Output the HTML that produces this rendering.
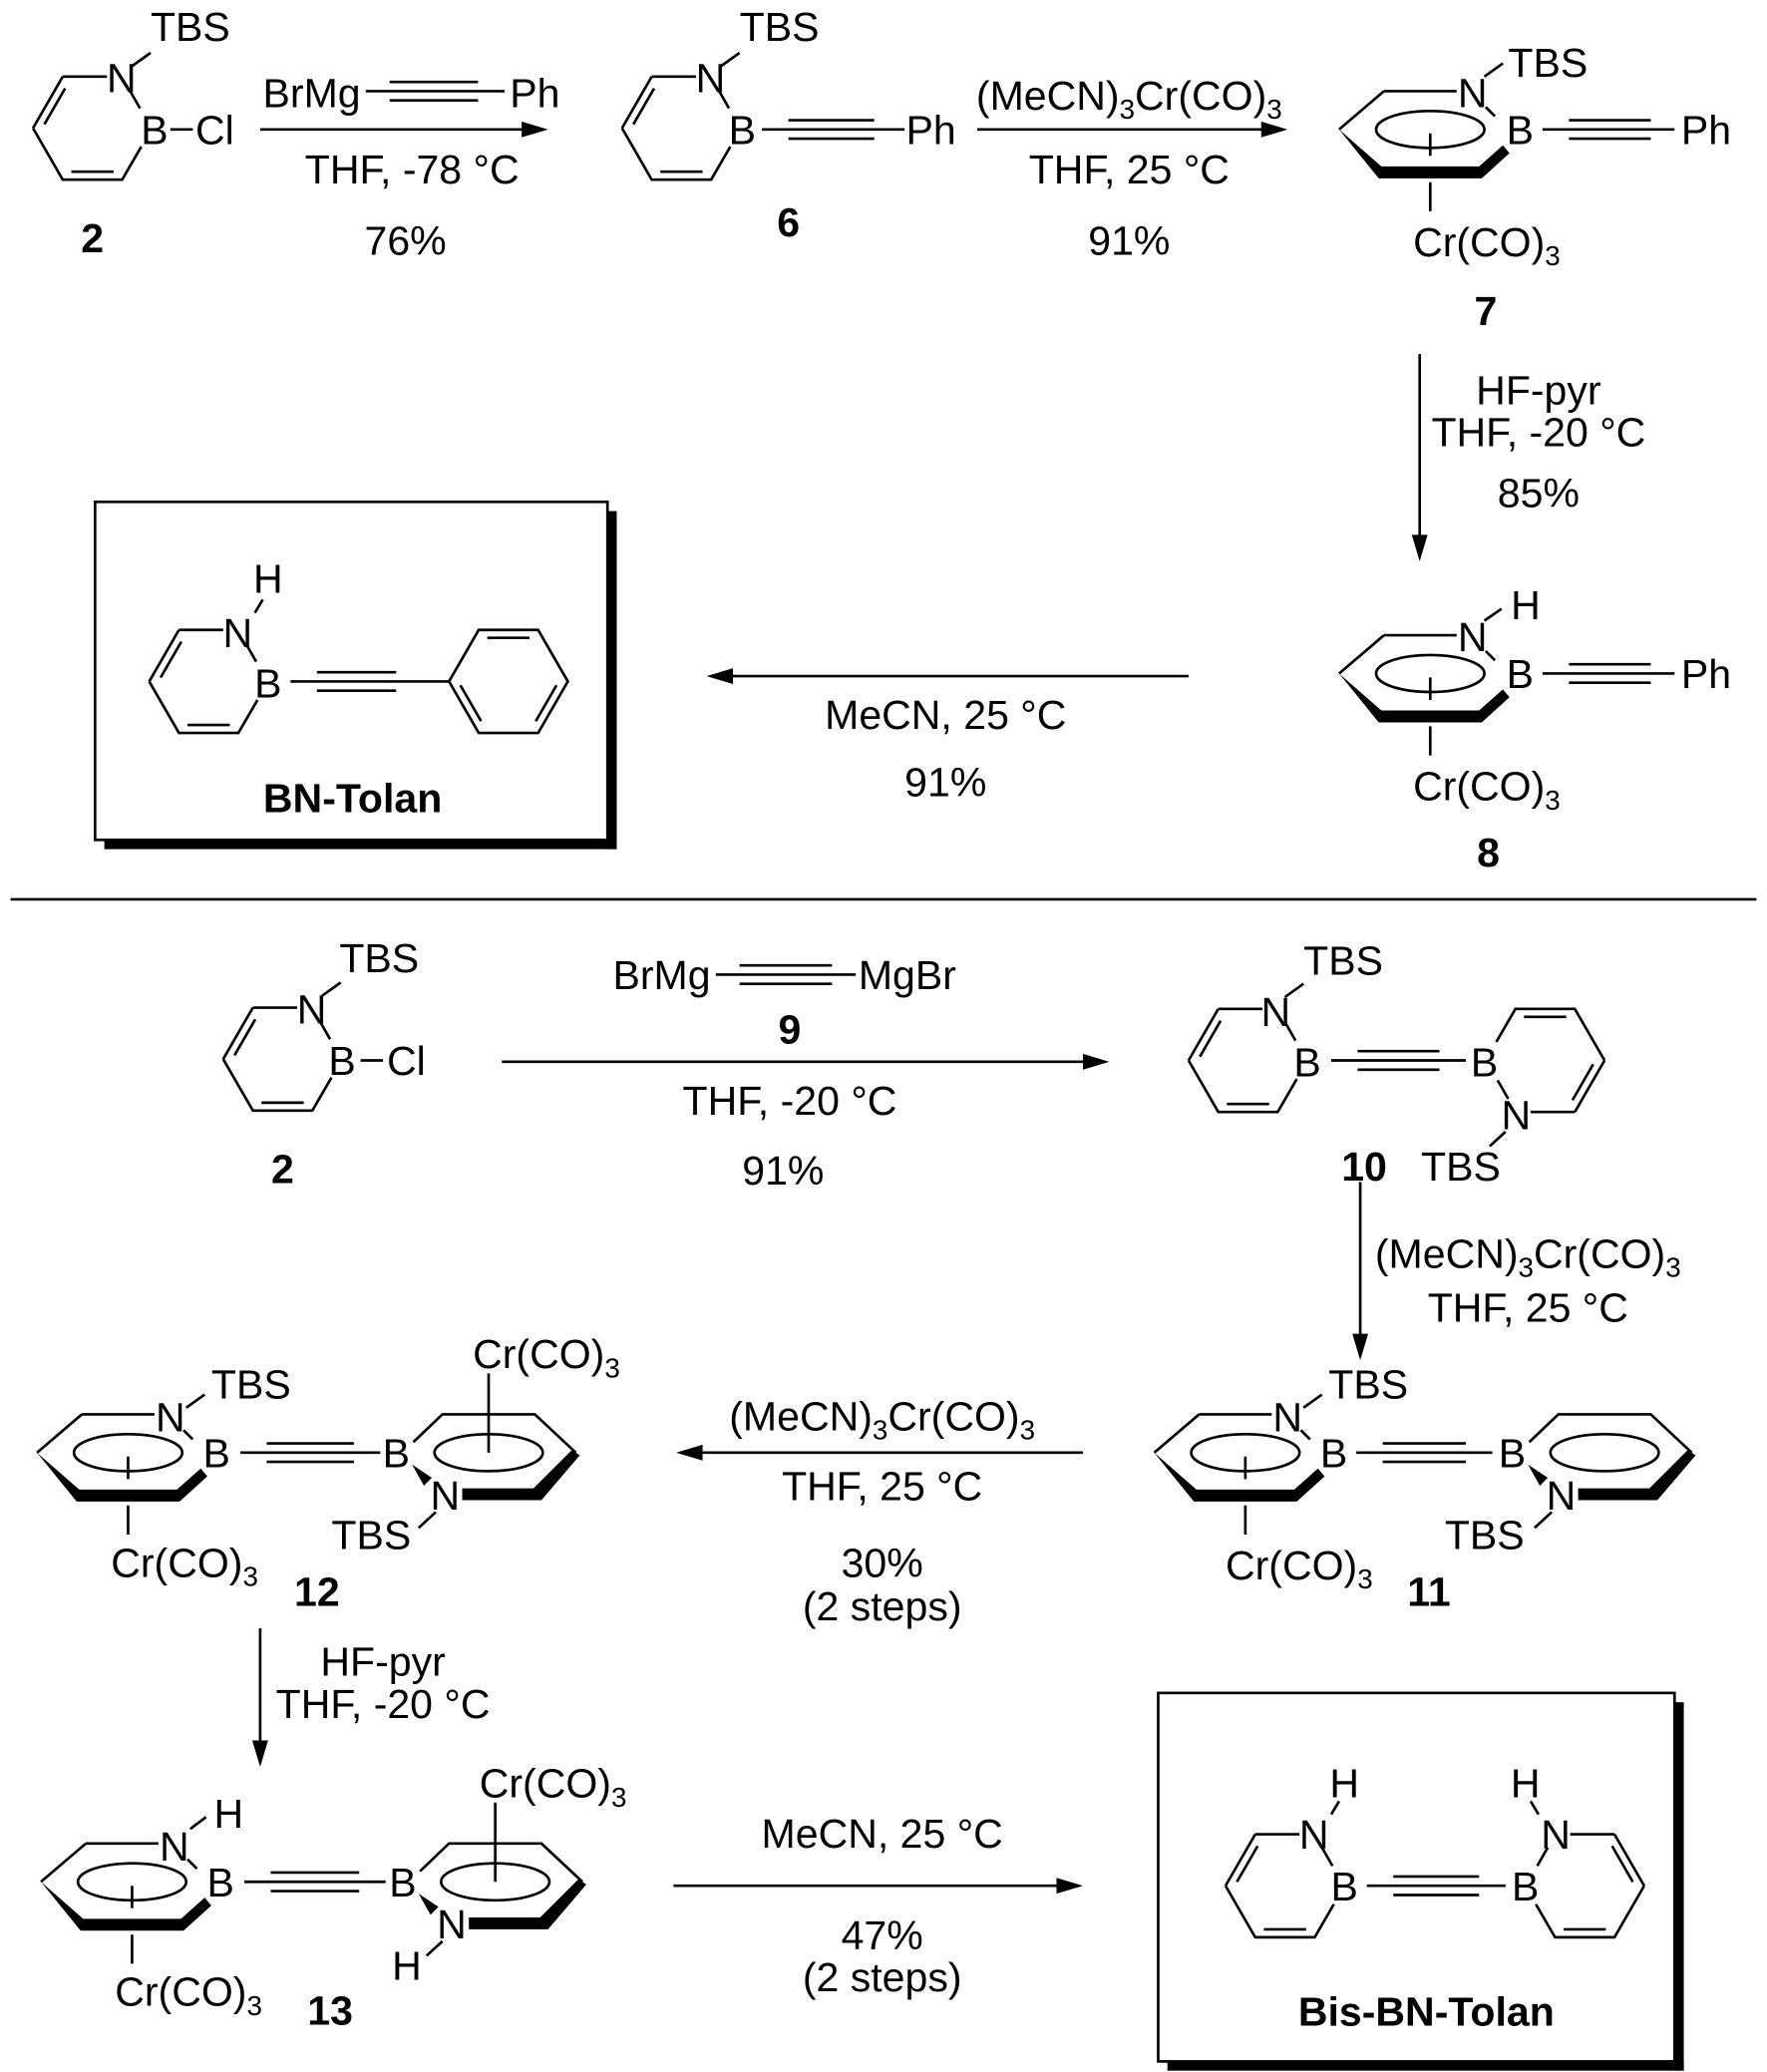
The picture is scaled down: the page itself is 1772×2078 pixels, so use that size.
<!DOCTYPE html>
<html><head><meta charset="utf-8"><style>
html,body{margin:0;padding:0;background:#fff}
svg{display:block}
text{font-family:"Liberation Sans",Arial,sans-serif;font-size:31px;fill:#000}
.m{text-anchor:middle}
.b{font-weight:bold}
</style></head><body>
<svg width="1772" height="2078" viewBox="0 0 1338 1569" xmlns="http://www.w3.org/2000/svg">
<defs>
<g id="bn" fill="none" stroke="#000" stroke-width="2">
<path d="M-22.5,-39 H11 M-45,0 L-22.5,-39 M-45,0 L-22.5,39 H22.5 L37,14 M28,-29 L36,-15 M-36.4,-2.9 L-20.7,-30.1 M-16,33 H16"/>
</g>
<g id="ph" fill="none" stroke="#000" stroke-width="2">
<path d="M-45,0 L-22.5,-39 H22.5 L45,0 L22.5,39 H-22.5 Z M-16,-33 H16 M-36.4,2.9 L-20.7,30.1 M36.4,2.9 L20.7,30.1"/>
</g>
<g id="crl">
<path d="M-35,-29 H20 M-69,0 L-35,-29 M42,-17 L49,-10 M0,3 V20 M0,40 V62" fill="none" stroke="#000" stroke-width="2"/>
<ellipse cx="0" cy="0" rx="41" ry="14" fill="none" stroke="#000" stroke-width="2"/>
<polygon points="-69,0 -37,28 37,28 55,12 60,18 39,37 -39,37" fill="#000"/>
</g>
<g id="crr">
<path d="M-57,-8 L-35,-29 H35 L66,0" fill="none" stroke="#000" stroke-width="2"/>
<ellipse cx="0" cy="0" rx="41" ry="14" fill="none" stroke="#000" stroke-width="2"/>
<polygon points="-20,27 34,27 63,-2 69,2 40,36 -20,36" fill="#000"/>
<polygon points="-58,9 -43,19 -49,25" fill="#000"/>
</g>
</defs>
<g stroke="#000" stroke-width="2" fill="none">
<path d="M100,50 L114,40 M129,98 H146"/>
<path d="M197,98 H405"/>
<path d="M277,69 H382 M295,62 H362 M295,76 H362"/>
<path d="M546,50 L560,40 M577,98 H685 M597,91 H662 M597,105 H662"/>
<path d="M740,98 H965"/>
<path d="M1124,58 L1138,48 M1168,98 H1268 M1188,91 H1250 M1188,105 H1250"/>
<path d="M1075,268 V415"/>
<path d="M1124,470 L1137,461 M1168,510 H1268 M1188,503 H1250 M1188,517 H1250"/>
<path d="M900,512 H545"/>
<rect x="72" y="380" width="388" height="256"/>
<path d="M199,454 L193,464 M220,516 H340 M240,509 H300 M240,523 H300"/>
<path d="M8,681 H1330"/>
<path d="M244,754 L258,744 M273,803 H290"/>
<path d="M380,804 H830"/>
<path d="M542,738 H648 M560,731 H630 M560,745 H630"/>
<path d="M973,755 L987,745 M1008,803 H1110 M1028,796 H1090 M1028,810 H1090 M1140,857 L1128,868"/>
<path d="M1030,895 V1020"/>
<path d="M987,1066 L1001,1056 M1027,1100 H1130 M1047,1093 H1110 M1047,1107 H1110 M1175,1145 L1162,1157"/>
<path d="M820,1100 H522"/>
<path d="M141,1066 L155,1056 M182,1100 H288 M202,1093 H268 M202,1107 H268 M330,1145 L317,1157 M370,1100 V1040"/>
<path d="M197,1233 V1328"/>
<path d="M144,1385 L156,1376 M185,1425 H292 M205,1418 H272 M205,1432 H272 M335,1470 L323,1481 M375,1425 V1365"/>
<path d="M510,1428 H810"/>
<rect x="877" y="1282" width="391" height="279"/>
<path d="M1014,1364 L1008,1374 M1035,1428 H1140 M1055,1421 H1120 M1055,1435 H1120 M1159,1364 L1165,1374"/>
</g>
<g fill="#000">
<polygon points="415,98 395,92 395,104"/>
<polygon points="975,98 955,92 955,104"/>
<polygon points="1075,425 1069,405 1081,405"/>
<polygon points="535,512 555,506 555,518"/>
<polygon points="840,804 820,798 820,810"/>
<polygon points="1030,1030 1024,1010 1036,1010"/>
<polygon points="512,1100 532,1094 532,1106"/>
<polygon points="197,1338 191,1318 203,1318"/>
<polygon points="820,1428 800,1422 800,1434"/>
<rect x="460" y="387" width="7" height="256"/>
<rect x="79" y="636" width="388" height="7"/>
<rect x="1268" y="1289" width="7" height="279"/>
<rect x="884" y="1561" width="391" height="7"/>
</g>
<use href="#bn" x="70" y="97"/>
<use href="#bn" x="516" y="97"/>
<use href="#bn" x="158" y="516"/>
<use href="#ph" x="385" y="516"/>
<use href="#bn" x="214" y="802"/>
<use href="#bn" x="945" y="803"/>
<use href="#bn" transform="translate(1170,803) rotate(180)"/>
<use href="#bn" x="973" y="1428"/>
<use href="#bn" transform="translate(1200,1428) scale(-1,1)"/>
<use href="#crl" x="1083" y="98"/>
<use href="#crl" x="1083" y="510"/>
<use href="#crl" x="943" y="1100"/>
<use href="#crr" x="1215" y="1100"/>
<use href="#crl" x="97" y="1100"/>
<use href="#crr" x="370" y="1100"/>
<use href="#crl" x="100" y="1425"/>
<use href="#crr" x="375" y="1425"/>

<text x="114" y="31">TBS</text>
<text class="m" x="92" y="70">N</text>
<text class="m" x="117" y="109">B</text>
<text x="148" y="109">Cl</text>
<text class="m b" x="70" y="191">2</text>
<text x="199" y="81">BrMg</text>
<text x="386" y="81">Ph</text>
<text class="m" x="312" y="139">THF, -78 °C</text>
<text class="m" x="307" y="193">76%</text>

<text x="560" y="31">TBS</text>
<text class="m" x="538" y="70">N</text>
<text class="m" x="562" y="109">B</text>
<text x="686" y="109">Ph</text>
<text class="m b" x="597" y="179">6</text>
<text class="m" x="855" y="83">(MeCN)<tspan font-size="21" dy="7">3</tspan><tspan dy="-7">Cr(CO)</tspan><tspan font-size="21" dy="7">3</tspan></text>
<text class="m" x="855" y="139">THF, 25 °C</text>
<text class="m" x="855" y="193">91%</text>

<text x="1142" y="58">TBS</text>
<text class="m" x="1115" y="81">N</text>
<text class="m" x="1151" y="109">B</text>
<text x="1273" y="109">Ph</text>
<text x="1070" y="194">Cr(CO)<tspan font-size="21" dy="7">3</tspan></text>
<text class="m b" x="1125" y="246">7</text>
<text class="m" x="1165" y="306">HF-pyr</text>
<text class="m" x="1165" y="338">THF, -20 °C</text>
<text class="m" x="1165" y="384">85%</text>

<text x="1144" y="469">H</text>
<text class="m" x="1115" y="493">N</text>
<text class="m" x="1151" y="521">B</text>
<text x="1273" y="521">Ph</text>
<text x="1070" y="606">Cr(CO)<tspan font-size="21" dy="7">3</tspan></text>
<text class="m b" x="1127" y="656">8</text>
<text class="m" x="716" y="552">MeCN, 25 °C</text>
<text class="m" x="716" y="603">91%</text>

<text class="m" x="203" y="449">H</text>
<text class="m" x="180" y="490">N</text>
<text class="m" x="203" y="528">B</text>
<text class="m b" x="267" y="615">BN-Tolan</text>

<text x="257" y="736">TBS</text>
<text class="m" x="236" y="775">N</text>
<text class="m" x="259" y="814">B</text>
<text x="293" y="814">Cl</text>
<text class="m b" x="214" y="896">2</text>
<text x="464" y="749">BrMg</text>
<text x="650" y="749">MgBr</text>
<text class="m b" x="598" y="790">9</text>
<text class="m" x="598" y="844">THF, -20 °C</text>
<text class="m" x="593" y="897">91%</text>

<text x="987" y="738">TBS</text>
<text class="m" x="966" y="777">N</text>
<text class="m" x="990" y="815">B</text>
<text class="m" x="1124" y="815">B</text>
<text class="m" x="1148" y="855">N</text>
<text x="1076" y="894">TBS</text>
<text class="m b" x="1033" y="894">10</text>
<text class="m" x="1157" y="960">(MeCN)<tspan font-size="21" dy="7">3</tspan><tspan dy="-7">Cr(CO)</tspan><tspan font-size="21" dy="7">3</tspan></text>
<text class="m" x="1157" y="1001">THF, 25 °C</text>

<text x="1006" y="1059">TBS</text>
<text class="m" x="975" y="1084">N</text>
<text class="m" x="1010" y="1111">B</text>
<text class="m" x="1145" y="1111">B</text>
<text class="m" x="1182" y="1143">N</text>
<text x="1094" y="1173">TBS</text>
<text x="928" y="1196">Cr(CO)<tspan font-size="21" dy="7">3</tspan></text>
<text class="m b" x="1082" y="1216">11</text>

<text class="m" x="668" y="1083">(MeCN)<tspan font-size="21" dy="7">3</tspan><tspan dy="-7">Cr(CO)</tspan><tspan font-size="21" dy="7">3</tspan></text>
<text class="m" x="668" y="1136">THF, 25 °C</text>
<text class="m" x="668" y="1194">30%</text>
<text class="m" x="668" y="1227">(2 steps)</text>

<text x="160" y="1059">TBS</text>
<text class="m" x="129" y="1084">N</text>
<text class="m" x="164" y="1111">B</text>
<text class="m" x="300" y="1111">B</text>
<text class="m" x="337" y="1143">N</text>
<text x="251" y="1173">TBS</text>
<text x="358" y="1036">Cr(CO)<tspan font-size="21" dy="7">3</tspan></text>
<text x="84" y="1194">Cr(CO)<tspan font-size="21" dy="7">3</tspan></text>
<text class="m b" x="240" y="1216">12</text>
<text class="m" x="290" y="1269">HF-pyr</text>
<text class="m" x="290" y="1301">THF, -20 °C</text>

<text x="162" y="1384">H</text>
<text class="m" x="132" y="1409">N</text>
<text class="m" x="167" y="1436">B</text>
<text class="m" x="305" y="1436">B</text>
<text class="m" x="342" y="1468">N</text>
<text class="m" x="308" y="1499">H</text>
<text x="363" y="1361">Cr(CO)<tspan font-size="21" dy="7">3</tspan></text>
<text x="87" y="1519">Cr(CO)<tspan font-size="21" dy="7">3</tspan></text>
<text class="m b" x="250" y="1533">13</text>
<text class="m" x="668" y="1399">MeCN, 25 °C</text>
<text class="m" x="668" y="1476">47%</text>
<text class="m" x="668" y="1508">(2 steps)</text>

<text class="m" x="1018" y="1361">H</text>
<text class="m" x="995" y="1400">N</text>
<text class="m" x="1018" y="1439">B</text>
<text class="m" x="1155" y="1361">H</text>
<text class="m" x="1178" y="1400">N</text>
<text class="m" x="1155" y="1439">B</text>
<text class="m b" x="1080" y="1534">Bis-BN-Tolan</text>
</svg>
</body></html>
